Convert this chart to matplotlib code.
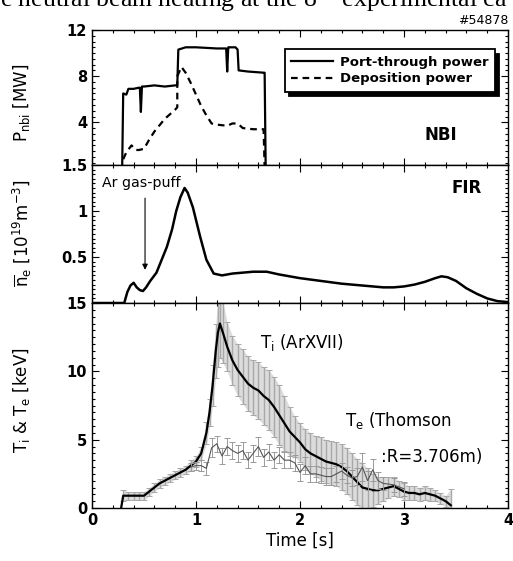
import matplotlib
matplotlib.use("Agg")
import matplotlib.pyplot as plt
from matplotlib.ticker import MultipleLocator
import numpy as np

plt.rcParams['mathtext.fontset'] = 'dejavusans'

# ---- NBI panel ----
t_port = [0.0, 0.29, 0.30, 0.33, 0.35, 0.40, 0.45, 0.46, 0.47, 0.48, 0.50, 0.60, 0.70, 0.80, 0.82, 0.83, 0.90, 1.00, 1.20, 1.29, 1.30, 1.31, 1.32, 1.38, 1.40, 1.41, 1.50, 1.65, 1.66, 1.67, 4.0]
p_port = [0.0, 0.0, 6.5, 6.4, 6.9, 6.9, 7.0, 7.0, 4.9, 7.1, 7.1, 7.2, 7.1, 7.2, 7.2, 10.3, 10.5, 10.5, 10.4, 10.4, 8.4, 10.5, 10.5, 10.5, 10.3, 8.5, 8.4, 8.3, 8.3, 0.0, 0.0]
t_dep = [0.30, 0.33, 0.38, 0.42, 0.45, 0.50, 0.55, 0.60, 0.70, 0.80, 0.82, 0.82, 0.86, 0.90, 0.95, 1.00, 1.05, 1.10, 1.15, 1.20, 1.30, 1.35, 1.40, 1.45, 1.55, 1.65, 1.66]
p_dep = [0.8, 1.4, 2.0, 1.6, 1.6, 1.7, 2.5, 3.2, 4.3, 5.1, 5.3, 8.0, 8.8, 8.3, 7.4, 6.4, 5.4, 4.6, 3.9, 3.8, 3.7, 3.9, 3.9, 3.5, 3.4, 3.4, 0.0]

# ---- FIR panel ----
t_fir = [0.0, 0.31, 0.34, 0.37, 0.40, 0.43, 0.46, 0.49, 0.52, 0.56, 0.62, 0.67, 0.72, 0.77, 0.81, 0.85, 0.89, 0.92, 0.97, 1.04, 1.10, 1.17, 1.25, 1.35, 1.45, 1.55, 1.68, 1.80, 1.90, 2.00, 2.20, 2.40, 2.60, 2.80, 2.90, 3.00, 3.10, 3.20, 3.30, 3.36, 3.42, 3.50, 3.60, 3.70, 3.80, 3.90, 4.00]
ne_fir = [0.0, 0.0, 0.12, 0.19, 0.22, 0.17, 0.14, 0.13, 0.17, 0.24, 0.33, 0.47, 0.61, 0.80, 1.00, 1.15, 1.25, 1.20, 1.04, 0.72, 0.47, 0.32, 0.30, 0.32, 0.33, 0.34, 0.34, 0.31, 0.29, 0.27, 0.24, 0.21, 0.19, 0.17, 0.17, 0.18, 0.20, 0.23, 0.27, 0.29, 0.28, 0.24, 0.16, 0.10, 0.05, 0.02, 0.01]

# ---- Temperature panel ----
t_ti = [0.28, 0.30, 0.35, 0.40, 0.45, 0.50, 0.55, 0.60, 0.65, 0.70, 0.75, 0.80, 0.85, 0.90, 0.95, 1.00, 1.05, 1.10, 1.13, 1.16, 1.19, 1.21, 1.23, 1.26, 1.30, 1.35, 1.40, 1.45, 1.50, 1.55, 1.60, 1.65, 1.70, 1.75, 1.80, 1.85, 1.90, 1.95, 2.00, 2.05, 2.10, 2.15, 2.20, 2.25, 2.30, 2.35, 2.40, 2.45, 2.50, 2.55, 2.60, 2.65, 2.70, 2.75, 2.80, 2.85, 2.90, 2.95, 3.00, 3.05, 3.10, 3.15, 3.20, 3.25, 3.30, 3.35, 3.40, 3.45]
ti = [0.0, 0.9, 0.9, 0.9, 0.9, 0.9, 1.2, 1.5, 1.8, 2.0, 2.2, 2.4, 2.6, 2.8, 3.1, 3.4, 4.0, 5.5, 7.0, 9.0, 11.5, 12.8, 13.5, 12.8, 11.8, 10.8, 10.1, 9.6, 9.1, 8.8, 8.6, 8.2, 7.9, 7.4, 6.8, 6.2, 5.6, 5.2, 4.8, 4.3, 4.0, 3.8, 3.6, 3.4, 3.3, 3.2, 3.0, 2.7, 2.3, 1.9, 1.5, 1.4, 1.3, 1.3, 1.4, 1.5, 1.6, 1.4, 1.2, 1.1, 1.1, 1.0, 1.1, 1.0, 0.9, 0.7, 0.5, 0.2]
ti_err = [0.0, 0.4, 0.3, 0.3, 0.3, 0.3, 0.3, 0.3, 0.3, 0.3, 0.3, 0.3, 0.3, 0.3, 0.4, 0.4, 0.5, 0.8, 1.0, 1.5, 2.0, 2.5, 2.5, 2.2, 1.8, 1.8, 1.9, 2.0, 2.0, 2.0, 2.1, 2.1, 2.2, 2.2, 2.2, 2.0, 1.8, 1.5, 1.4, 1.5, 1.5, 1.5, 1.6, 1.6, 1.6, 1.6, 1.7, 1.7, 1.7, 1.7, 1.8, 1.5, 1.2, 1.0, 0.9, 0.8, 0.7, 0.6, 0.6, 0.5, 0.5, 0.5, 0.5, 0.5, 0.4, 0.4, 0.4, 1.2]
t_te = [0.95, 1.00, 1.05, 1.10, 1.15, 1.20, 1.25, 1.30, 1.35, 1.40, 1.45, 1.50, 1.55, 1.60, 1.65, 1.70, 1.75, 1.80, 1.85, 1.90, 1.95, 2.00, 2.05, 2.10, 2.15, 2.20, 2.25, 2.30, 2.35, 2.40, 2.45, 2.50, 2.55, 2.60, 2.65, 2.70, 2.75, 2.80, 2.90, 3.00]
te = [3.0, 3.1, 3.1, 2.9, 4.4, 4.7, 3.8, 4.5, 4.2, 4.0, 4.2, 3.5, 4.0, 4.5, 3.7, 4.1, 3.5, 3.9, 3.5, 3.5, 3.3, 2.6, 3.1, 2.5, 2.5, 2.4, 2.3, 2.3, 2.5, 2.7, 2.4, 2.2, 2.3, 3.0, 2.0, 2.8, 2.0, 1.8, 1.7, 1.4]
te_err = [0.3, 0.3, 0.4, 0.5, 0.7, 0.6, 0.6, 0.6, 0.6, 0.6, 0.6, 0.6, 0.6, 0.7, 0.6, 0.6, 0.6, 0.6, 0.6, 0.6, 0.6, 0.6, 0.6, 0.6, 0.6, 0.6, 0.6, 0.6, 0.6, 0.6, 0.6, 0.6, 0.6, 1.0, 0.7, 0.8, 0.6, 0.5, 0.5, 0.5]

x_ticks = [0, 1, 2, 3, 4]
nbi_ticks = [4, 8, 12]
fir_ticks = [0.5, 1, 1.5]
fir_ticklabels = ['0.5', '1', '1.5']
t_ticks = [0, 5, 10, 15]

fig = plt.figure(figsize=(5.13, 5.61), dpi=100)
L, R = 92/513, 508/513
def ypos(px):
    return 1 - px/561
ax1 = fig.add_axes([L, ypos(165), R-L, ypos(30)-ypos(165)])
ax2 = fig.add_axes([L, ypos(303), R-L, ypos(165)-ypos(303)], sharex=ax1)
ax3 = fig.add_axes([L, ypos(508), R-L, ypos(303)-ypos(508)], sharex=ax1)

tickfont = dict(fontsize=10.5, fontweight='bold')
for ax in (ax1, ax2, ax3):
    ax.tick_params(which='both', direction='in', top=True, right=True, width=0.8)
    ax.tick_params(which='major', length=5)
    ax.tick_params(which='minor', length=2.5)
    ax.xaxis.set_minor_locator(MultipleLocator(0.2))
    for s in ax.spines.values():
        s.set_linewidth(1.0)
    ax.set_xlim(0, 4)

# NBI
ax1.plot(t_port, p_port, color='black', lw=1.6, label='Port-through power')
ax1.plot(t_dep, p_dep, color='black', lw=1.6, ls=(0, (3, 2.2)), label='Deposition power')
ax1.set_ylim(0.3, 12)
ax1.set_yticks(nbi_ticks)
ax1.set_yticklabels([str(v) for v in nbi_ticks], **tickfont)
ax1.yaxis.set_minor_locator(MultipleLocator(0.5))
ax1.tick_params(labelbottom=False)
leg = ax1.legend(loc='upper right', bbox_to_anchor=(0.985, 0.905), frameon=True, fancybox=False,
                 shadow={'color': 'black', 'alpha': 1.0, 'ox': 3, 'oy': -3},
                 prop=dict(size=9.5, weight='bold'), handlelength=3.2, borderpad=0.5,
                 labelspacing=0.25, handletextpad=0.5)
leg.get_frame().set_edgecolor('black')
leg.get_frame().set_linewidth(1.3)
ax1.text(3.35, 2.9, 'NBI', fontsize=12, fontweight='bold', ha='center', va='center')

# FIR
ax2.plot(t_fir, ne_fir, color='black', lw=1.8)
ax2.set_ylim(0, 1.5)
ax2.set_yticks(fir_ticks)
ax2.set_yticklabels(fir_ticklabels, **tickfont)
ax2.yaxis.set_minor_locator(MultipleLocator(0.05))
ax2.tick_params(labelbottom=False)
ax2.text(3.6, 1.25, 'FIR', fontsize=12, fontweight='bold', ha='center', va='center')
ax2.annotate('', xy=(0.51, 0.33), xytext=(0.51, 1.17),
             arrowprops=dict(arrowstyle='-|>', color='black', lw=0.8, mutation_scale=8))
ax2.text(0.1, 1.3, 'Ar gas-puff', fontsize=10.2, ha='left', va='center',
         bbox=dict(facecolor='white', edgecolor='none', pad=0.5))

# Temperatures
ti_lo = [v - e for v, e in zip(ti, ti_err)]
ti_hi = [v + e for v, e in zip(ti, ti_err)]
ax3.fill_between(t_ti, ti_lo, ti_hi, color='#dcdcdc', lw=0)
ax3.errorbar(t_ti, ti, yerr=ti_err, fmt='none', ecolor='#a8a8a8', elinewidth=1.0,
             capsize=2.0, capthick=0.7)
ax3.plot(t_ti, ti, color='black', lw=1.6)
ax3.errorbar(t_te, te, yerr=te_err, fmt='-', color='#555555', lw=0.8, ecolor='#9a9a9a',
             elinewidth=0.7, capsize=2.0, capthick=0.7)
ax3.set_ylim(0, 15)
ax3.set_yticks(t_ticks)
ax3.set_yticklabels([str(v) for v in t_ticks], **tickfont)
ax3.yaxis.set_minor_locator(MultipleLocator(0.5))
ax3.set_xticks(x_ticks)
ax3.set_xticklabels([str(v) for v in x_ticks], **tickfont)
ax3.set_xlabel('Time [s]', fontsize=12, labelpad=3)
ax3.text(1.62, 12.1, r'T$_{\rm i}$ (ArXVII)', fontsize=12, ha='left', va='center')
ax3.text(2.43, 6.4, r'T$_{\rm e}$ (Thomson', fontsize=12, ha='left', va='center')
ax3.text(2.78, 3.7, ':R=3.706m)', fontsize=12, ha='left', va='center')

# y labels
fig.text(22/513, ypos(103), r'P$_{\rm nbi}$ [MW]', rotation=90, fontsize=12, ha='center', va='center')
fig.text(22/513, ypos(233), r'$\overline{\rm n}_{\rm e}$ [10$^{19}$m$^{-3}$]', rotation=90, fontsize=12, ha='center', va='center')
fig.text(22/513, ypos(400), r'T$_{\rm i}$ & T$_{\rm e}$ [keV]', rotation=90, fontsize=12, ha='center', va='center')

fig.text(508/513, ypos(21), '#54878', fontsize=9, ha='right', va='center')
fig.text(0.0, ypos(7.5), r'e neutral beam heating at the 8$^{\rm th}$ experimental ca',
         fontsize=18.5, family='Liberation Serif', ha='left', va='baseline')

fig.savefig('out.png', dpi=100)
